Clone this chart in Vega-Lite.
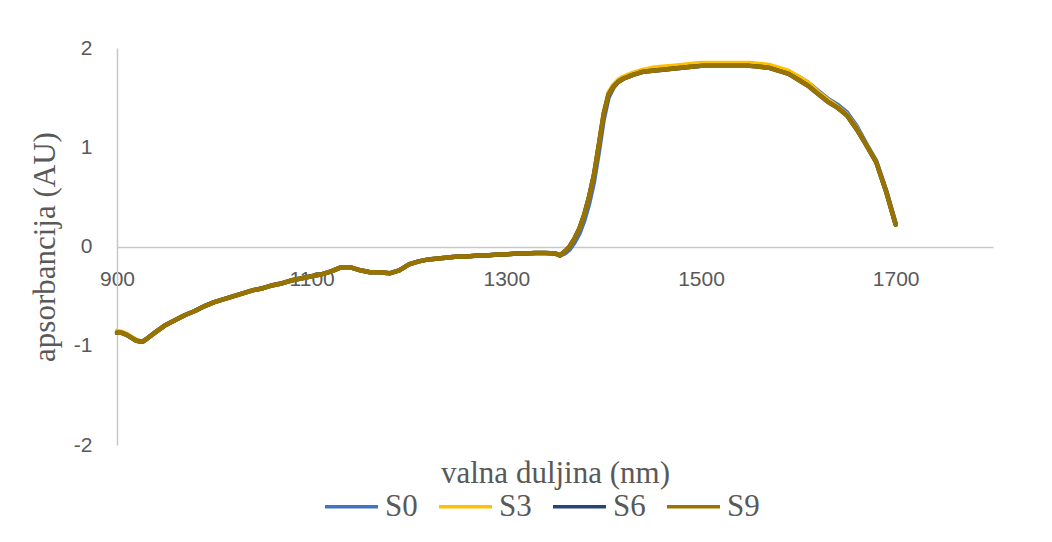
{
  "$schema": "https://vega.github.io/schema/vega-lite/v6.json",
  "width": 876,
  "height": 397,
  "padding": {"left": 117, "top": 48, "right": 59, "bottom": 97},
  "autosize": {"type": "none"},
  "background": "white",
  "config": {"view": {"stroke": null}},
  "data": {
    "values": [
      {"x": 900, "S0": -0.87, "S3": -0.85, "S6": -0.87, "S9": -0.87},
      {"x": 905, "S0": -0.87, "S3": -0.86, "S6": -0.87, "S9": -0.87},
      {"x": 910, "S0": -0.89, "S3": -0.88, "S6": -0.89, "S9": -0.89},
      {"x": 915, "S0": -0.92, "S3": -0.91, "S6": -0.92, "S9": -0.92},
      {"x": 920, "S0": -0.95, "S3": -0.94, "S6": -0.95, "S9": -0.95},
      {"x": 926, "S0": -0.96, "S3": -0.96, "S6": -0.96, "S9": -0.96},
      {"x": 932, "S0": -0.92, "S3": -0.92, "S6": -0.92, "S9": -0.92},
      {"x": 940, "S0": -0.86, "S3": -0.86, "S6": -0.86, "S9": -0.86},
      {"x": 950, "S0": -0.79, "S3": -0.79, "S6": -0.79, "S9": -0.79},
      {"x": 960, "S0": -0.74, "S3": -0.74, "S6": -0.74, "S9": -0.74},
      {"x": 970, "S0": -0.69, "S3": -0.69, "S6": -0.69, "S9": -0.69},
      {"x": 980, "S0": -0.65, "S3": -0.65, "S6": -0.65, "S9": -0.65},
      {"x": 990, "S0": -0.6, "S3": -0.6, "S6": -0.6, "S9": -0.6},
      {"x": 1000, "S0": -0.56, "S3": -0.56, "S6": -0.56, "S9": -0.56},
      {"x": 1010, "S0": -0.53, "S3": -0.53, "S6": -0.53, "S9": -0.53},
      {"x": 1020, "S0": -0.5, "S3": -0.5, "S6": -0.5, "S9": -0.5},
      {"x": 1030, "S0": -0.47, "S3": -0.47, "S6": -0.47, "S9": -0.47},
      {"x": 1040, "S0": -0.44, "S3": -0.44, "S6": -0.44, "S9": -0.44},
      {"x": 1050, "S0": -0.42, "S3": -0.42, "S6": -0.42, "S9": -0.42},
      {"x": 1060, "S0": -0.39, "S3": -0.39, "S6": -0.39, "S9": -0.39},
      {"x": 1070, "S0": -0.37, "S3": -0.37, "S6": -0.37, "S9": -0.37},
      {"x": 1080, "S0": -0.34, "S3": -0.34, "S6": -0.34, "S9": -0.34},
      {"x": 1090, "S0": -0.32, "S3": -0.32, "S6": -0.32, "S9": -0.32},
      {"x": 1100, "S0": -0.3, "S3": -0.3, "S6": -0.3, "S9": -0.3},
      {"x": 1110, "S0": -0.28, "S3": -0.28, "S6": -0.28, "S9": -0.28},
      {"x": 1120, "S0": -0.25, "S3": -0.25, "S6": -0.25, "S9": -0.25},
      {"x": 1130, "S0": -0.21, "S3": -0.21, "S6": -0.21, "S9": -0.21},
      {"x": 1140, "S0": -0.21, "S3": -0.21, "S6": -0.21, "S9": -0.21},
      {"x": 1150, "S0": -0.24, "S3": -0.24, "S6": -0.24, "S9": -0.24},
      {"x": 1160, "S0": -0.26, "S3": -0.26, "S6": -0.26, "S9": -0.26},
      {"x": 1170, "S0": -0.26, "S3": -0.26, "S6": -0.26, "S9": -0.26},
      {"x": 1180, "S0": -0.27, "S3": -0.27, "S6": -0.27, "S9": -0.27},
      {"x": 1190, "S0": -0.24, "S3": -0.24, "S6": -0.24, "S9": -0.24},
      {"x": 1200, "S0": -0.18, "S3": -0.18, "S6": -0.18, "S9": -0.18},
      {"x": 1210, "S0": -0.15, "S3": -0.15, "S6": -0.15, "S9": -0.15},
      {"x": 1220, "S0": -0.13, "S3": -0.13, "S6": -0.13, "S9": -0.13},
      {"x": 1230, "S0": -0.12, "S3": -0.12, "S6": -0.12, "S9": -0.12},
      {"x": 1240, "S0": -0.11, "S3": -0.11, "S6": -0.11, "S9": -0.11},
      {"x": 1250, "S0": -0.1, "S3": -0.1, "S6": -0.1, "S9": -0.1},
      {"x": 1260, "S0": -0.1, "S3": -0.1, "S6": -0.1, "S9": -0.1},
      {"x": 1270, "S0": -0.09, "S3": -0.09, "S6": -0.09, "S9": -0.09},
      {"x": 1280, "S0": -0.09, "S3": -0.09, "S6": -0.09, "S9": -0.09},
      {"x": 1290, "S0": -0.08, "S3": -0.08, "S6": -0.08, "S9": -0.08},
      {"x": 1300, "S0": -0.08, "S3": -0.08, "S6": -0.08, "S9": -0.08},
      {"x": 1310, "S0": -0.07, "S3": -0.07, "S6": -0.07, "S9": -0.07},
      {"x": 1320, "S0": -0.07, "S3": -0.07, "S6": -0.07, "S9": -0.07},
      {"x": 1330, "S0": -0.065, "S3": -0.065, "S6": -0.065, "S9": -0.065},
      {"x": 1340, "S0": -0.065, "S3": -0.065, "S6": -0.065, "S9": -0.065},
      {"x": 1350, "S0": -0.07, "S3": -0.07, "S6": -0.07, "S9": -0.07},
      {"x": 1355, "S0": -0.09, "S3": -0.09, "S6": -0.09, "S9": -0.09},
      {"x": 1360, "S0": -0.07, "S3": -0.05, "S6": -0.05, "S9": -0.05},
      {"x": 1365, "S0": -0.03, "S3": 0.0, "S6": 0.0, "S9": 0.0},
      {"x": 1370, "S0": 0.04, "S3": 0.08, "S6": 0.08, "S9": 0.08},
      {"x": 1375, "S0": 0.13, "S3": 0.18, "S6": 0.18, "S9": 0.18},
      {"x": 1380, "S0": 0.26, "S3": 0.32, "S6": 0.32, "S9": 0.32},
      {"x": 1385, "S0": 0.43, "S3": 0.5, "S6": 0.5, "S9": 0.5},
      {"x": 1390, "S0": 0.65, "S3": 0.72, "S6": 0.72, "S9": 0.72},
      {"x": 1395, "S0": 0.95, "S3": 1.03, "S6": 1.02, "S9": 1.02},
      {"x": 1400, "S0": 1.28, "S3": 1.35, "S6": 1.33, "S9": 1.33},
      {"x": 1405, "S0": 1.5, "S3": 1.55, "S6": 1.53, "S9": 1.53},
      {"x": 1410, "S0": 1.6, "S3": 1.63, "S6": 1.61, "S9": 1.61},
      {"x": 1415, "S0": 1.66, "S3": 1.68, "S6": 1.66, "S9": 1.66},
      {"x": 1420, "S0": 1.69, "S3": 1.71, "S6": 1.69, "S9": 1.69},
      {"x": 1430, "S0": 1.73, "S3": 1.75, "S6": 1.73, "S9": 1.73},
      {"x": 1440, "S0": 1.76, "S3": 1.78, "S6": 1.76, "S9": 1.76},
      {"x": 1450, "S0": 1.77, "S3": 1.8, "S6": 1.77, "S9": 1.77},
      {"x": 1460, "S0": 1.78, "S3": 1.81, "S6": 1.78, "S9": 1.78},
      {"x": 1470, "S0": 1.79, "S3": 1.82, "S6": 1.79, "S9": 1.79},
      {"x": 1480, "S0": 1.8, "S3": 1.83, "S6": 1.8, "S9": 1.8},
      {"x": 1490, "S0": 1.81, "S3": 1.84, "S6": 1.81, "S9": 1.81},
      {"x": 1500, "S0": 1.82, "S3": 1.85, "S6": 1.82, "S9": 1.82},
      {"x": 1510, "S0": 1.82, "S3": 1.85, "S6": 1.82, "S9": 1.82},
      {"x": 1520, "S0": 1.82, "S3": 1.85, "S6": 1.82, "S9": 1.82},
      {"x": 1530, "S0": 1.83, "S3": 1.85, "S6": 1.82, "S9": 1.82},
      {"x": 1540, "S0": 1.83, "S3": 1.85, "S6": 1.82, "S9": 1.82},
      {"x": 1550, "S0": 1.83, "S3": 1.85, "S6": 1.82, "S9": 1.82},
      {"x": 1560, "S0": 1.82, "S3": 1.84, "S6": 1.81, "S9": 1.81},
      {"x": 1570, "S0": 1.81, "S3": 1.83, "S6": 1.8, "S9": 1.8},
      {"x": 1580, "S0": 1.79, "S3": 1.8, "S6": 1.77, "S9": 1.77},
      {"x": 1590, "S0": 1.76, "S3": 1.77, "S6": 1.74, "S9": 1.74},
      {"x": 1600, "S0": 1.71, "S3": 1.71, "S6": 1.68, "S9": 1.68},
      {"x": 1610, "S0": 1.65, "S3": 1.65, "S6": 1.62, "S9": 1.62},
      {"x": 1620, "S0": 1.57, "S3": 1.56, "S6": 1.54, "S9": 1.54},
      {"x": 1630, "S0": 1.49, "S3": 1.48, "S6": 1.46, "S9": 1.46},
      {"x": 1640, "S0": 1.43, "S3": 1.41, "S6": 1.4, "S9": 1.4},
      {"x": 1650, "S0": 1.35, "S3": 1.33, "S6": 1.32, "S9": 1.32},
      {"x": 1660, "S0": 1.21, "S3": 1.19, "S6": 1.18, "S9": 1.18},
      {"x": 1670, "S0": 1.03, "S3": 1.02, "S6": 1.02, "S9": 1.02},
      {"x": 1680, "S0": 0.86, "S3": 0.85, "S6": 0.85, "S9": 0.85},
      {"x": 1690, "S0": 0.57, "S3": 0.56, "S6": 0.56, "S9": 0.56},
      {"x": 1700, "S0": 0.23, "S3": 0.22, "S6": 0.22, "S9": 0.22}
    ]
  },
  "transform": [
    {"fold": ["S0", "S3", "S6", "S9"], "as": ["serija", "vrijednost"]}
  ],
  "mark": {"type": "line", "strokeWidth": 4.5, "strokeJoin": "round", "strokeCap": "round"},
  "encoding": {
    "x": {
      "field": "x",
      "type": "quantitative",
      "scale": {"domain": [900, 1800], "nice": false, "zero": false},
      "axis": {
        "values": [900, 1100, 1300, 1500, 1700],
        "labelExpr": "datum.value + ''",
        "labelFlush": false,
        "labelOverlap": false,
        "offset": -198,
        "grid": false,
        "ticks": false,
        "domainColor": "#c8c8c8",
        "domainWidth": 1.5,
        "labelFont": "Liberation Sans",
        "labelFontSize": 21,
        "labelColor": "#595959",
        "labelPadding": 21,
        "title": "valna duljina (nm)",
        "titleFont": "Liberation Serif",
        "titleFontSize": 31,
        "titleFontWeight": "normal",
        "titleColor": "#595959",
        "titleBaseline": "alphabetic",
        "titleY": 235,
        "titleX": 438
      }
    },
    "y": {
      "field": "vrijednost",
      "type": "quantitative",
      "scale": {"domain": [-2, 2], "nice": false},
      "axis": {
        "values": [-2, -1, 0, 1, 2],
        "labelExpr": "datum.value + ''",
        "labelFlush": false,
        "grid": false,
        "ticks": false,
        "domainColor": "#c8c8c8",
        "domainWidth": 1.5,
        "labelFont": "Liberation Sans",
        "labelFontSize": 21,
        "labelColor": "#595959",
        "labelPadding": 25,
        "title": "apsorbancija (AU)",
        "titleFont": "Liberation Serif",
        "titleFontSize": 31,
        "titleFontWeight": "normal",
        "titleColor": "#595959",
        "titlePadding": 12
      }
    },
    "color": {
      "field": "serija",
      "type": "nominal",
      "scale": {"domain": ["S0", "S3", "S6", "S9"], "range": ["#4472C4", "#FFC000", "#264478", "#997300"]},
      "legend": {
        "title": null,
        "orient": "none",
        "direction": "horizontal",
        "legendX": 206,
        "legendY": 430,
        "symbolType": "stroke",
        "symbolSize": 2809,
        "symbolStrokeWidth": 3.5,
        "labelFont": "Liberation Serif",
        "labelFontSize": 31,
        "labelColor": "#595959",
        "labelOffset": 5,
        "columnPadding": 14,
        "labelLimit": 200
      }
    }
  }
}
